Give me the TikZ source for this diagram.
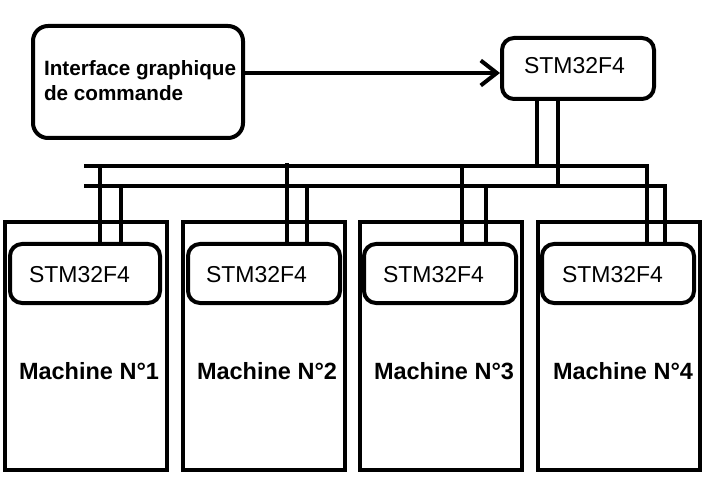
\documentclass[tikz,border=0pt]{standalone}
\usepackage{fontspec}
\setmainfont{Liberation Sans}
\usetikzlibrary{arrows.meta}
\begin{document}
\begin{tikzpicture}[x=1pt,y=-1pt,line width=4pt,
  rbox/.style={draw,rounded corners=#1,inner sep=0pt},
  mbox/.style={draw,inner sep=0pt,minimum width=162pt,minimum height=248pt},
  sbox/.style={draw,rounded corners=12pt,inner sep=0pt,minimum width=152pt,minimum height=59pt},
  stmtxt/.style={anchor=base west,inner sep=0pt,font=\fontsize{23}{27}\selectfont},
  machtxt/.style={anchor=base west,inner sep=0pt,font=\fontsize{23.5}{28}\selectfont\bfseries},
  ihmtxt/.style={anchor=base west,inner sep=0pt,font=\fontsize{20.7}{25}\selectfont\bfseries},
  wire/.style={draw,line width=4pt},
  arrow/.style={wire,-{Straight Barb[length=16pt,width=25pt,line width=4pt]}}]
\fill[white] (0,0) rectangle (709,478);
\useasboundingbox (0,0) rectangle (709,478);

% top boxes
\node[rbox=15pt,minimum width=210pt,minimum height=112pt] (ihm) at (138,82) {};
\node[ihmtxt] (ihm1) at (42,76) {Interface graphique};
\node[ihmtxt] (ihm2) at (42,101) {de commande};
\node[rbox=12pt,minimum width=152pt,minimum height=61pt] (stm0) at (578,68.5) {};
\node[stmtxt] (stm0t) at (522,74) {STM32F4};

% arrow
\coordinate (ay) at (0,73);
\draw[arrow] (ihm.east |- ay) -- (stm0.west |- ay);

% machines
\node[mbox] (m1) at (85.5,346) {};
\node[mbox] (m2) at (264,346) {};
\node[mbox] (m3) at (440.5,346) {};
\node[mbox] (m4) at (618.5,346) {};
\node[sbox,minimum width=150pt] (s1) at (85,273.5) {};
\node[sbox] (s2) at (264,273.5) {};
\node[sbox] (s3) at (440,273.5) {};
\node[sbox] (s4) at (618,273.5) {};
\node[stmtxt] (s1t) at (27,282) {STM32F4};
\node[stmtxt] (s2t) at (204,282) {STM32F4};
\node[stmtxt] (s3t) at (381,282) {STM32F4};
\node[stmtxt] (s4t) at (560,282) {STM32F4};
\node[machtxt] (m1t) at (17,379) {Machine N°1};
\node[machtxt] (m2t) at (195,379) {Machine N°2};
\node[machtxt] (m3t) at (372,379) {Machine N°3};
\node[machtxt] (m4t) at (551,379) {Machine N°4};

% bus
\coordinate (busAw) at (84,166);
\coordinate (busAe) at (647,166);
\coordinate (busBw) at (84,186);
\coordinate (busBe) at (665,186);
\draw[wire] (busAw) -- (busAe) -- (busAe |- s4.north);
\draw[wire] (busBw) -- (busBe) -- (busBe |- s4.north);

% taps
\coordinate (ta0) at (537,166);
\coordinate (tb0) at (558,186);
\coordinate (ta1) at (100,166);
\coordinate (tb1) at (121,186);
\coordinate (ta2) at (287,163);
\coordinate (tb2) at (307,186);
\coordinate (ta3) at (462,166);
\coordinate (tb3) at (486,186);
\draw[wire] (ta0 |- stm0.south) -- (ta0);
\draw[wire] (tb0 |- stm0.south) -- (tb0);
\draw[wire] (ta1) -- (ta1 |- s1.north);
\draw[wire] (tb1) -- (tb1 |- s1.north);
\draw[wire] (ta2) -- (ta2 |- s2.north);
\draw[wire] (tb2) -- (tb2 |- s2.north);
\draw[wire] (ta3) -- (ta3 |- s3.north);
\draw[wire] (tb3) -- (tb3 |- s3.north);
\end{tikzpicture}
\end{document}
